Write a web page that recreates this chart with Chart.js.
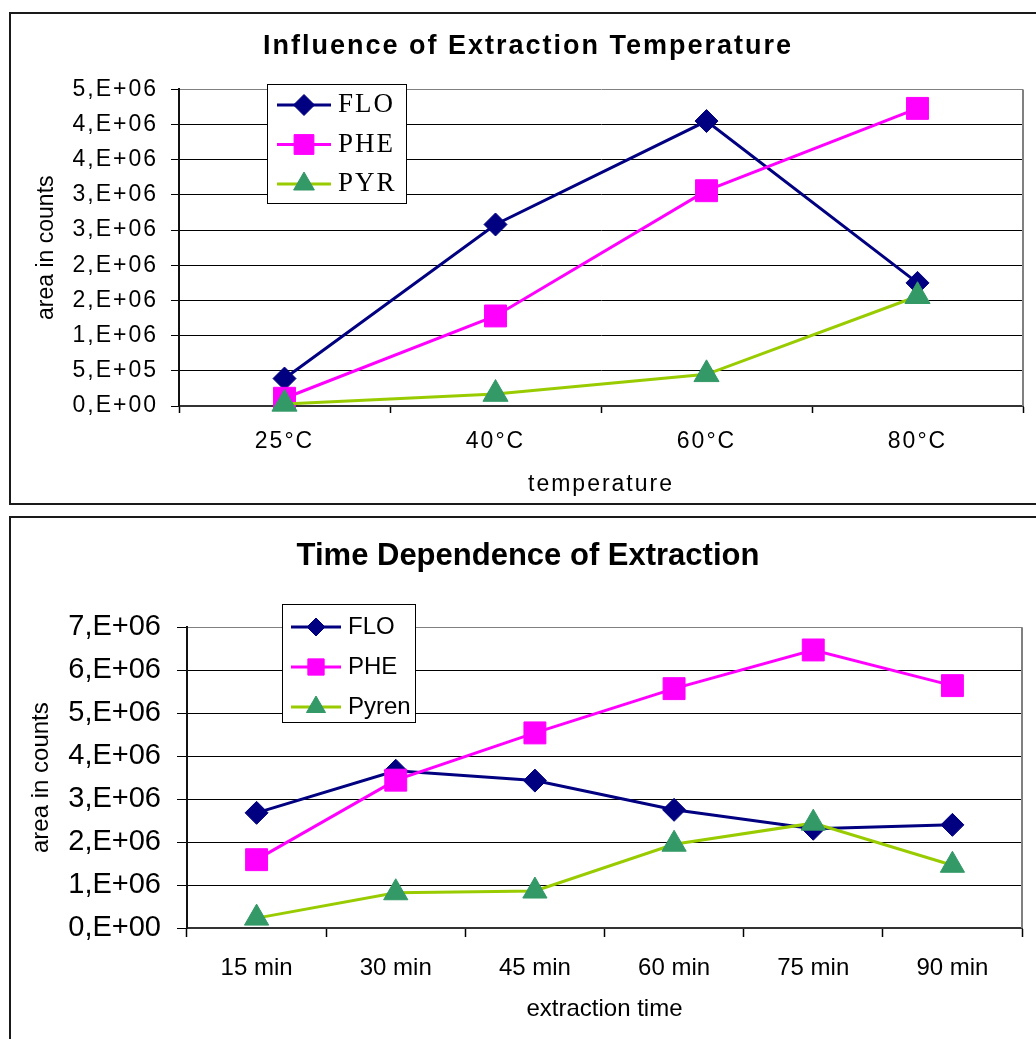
<!DOCTYPE html>
<html>
<head>
<meta charset="utf-8">
<title>Extraction</title>
<script src="https://cdn.jsdelivr.net/npm/chart.js@4.4.1/dist/chart.umd.min.js"></script>
<style>
    body { margin: 0; background: #fff; overflow: hidden; }
    .box { position: absolute; left: 9px; border: 2px solid #1a1a1a; background: #fff; }
    #box1 { top: 12px; width: 1034px; height: 489px; }
    #box2 { top: 516px; width: 1034px; height: 530px; }
    canvas { display: block; }
</style>
</head>
<body>
<div class="box" id="box1"><canvas id="chartTemp" width="1034" height="489"></canvas></div>
<div class="box" id="box2"><canvas id="chartTime" width="1034" height="530"></canvas></div>
<script>
// Dữ liệu biểu đồ 1: nhiệt độ
const tempLabels = ['25°C', '40°C', '60°C', '80°C'];
const tempFLO = [3.9e5, 2.58e6, 4.05e6, 1.75e6];
const tempPHE = [1.1e5, 1.28e6, 3.06e6, 4.23e6];
const tempPYR = [3e4, 1.7e5, 4.5e5, 1.56e6];
const tempYMax = 4.5e6;
const tempYStep = 5e5;

// Dữ liệu biểu đồ 2: thời gian
const timeLabels = ['15 min', '30 min', '45 min', '60 min', '75 min', '90 min'];
const timeFLO = [2.68e6, 3.66e6, 3.43e6, 2.75e6, 2.31e6, 2.40e6];
const timePHE = [1.59e6, 3.44e6, 4.54e6, 5.57e6, 6.47e6, 5.64e6];
const timePYR = [2.3e5, 8.2e5, 8.6e5, 1.95e6, 2.44e6, 1.46e6];
const timeYMax = 7e6;
const timeYStep = 1e6;

const sans = '"Liberation Sans", Arial, sans-serif';
const serif = '"Liberation Serif", "Times New Roman", serif';

// Nhãn kiểu Excel: 5,E+05
function sciLabel(v) {
    const parts = Number(v).toExponential(0).split('e');
    const exp = parseInt(parts[1], 10);
    return parts[0] + ',E' + (exp < 0 ? '-' : '+') + String(Math.abs(exp)).padStart(2, '0');
}

function series(label, data, line, marker, style, radius, order) {
    return {
        label: label,
        data: data,
        order: order,
        borderColor: line,
        backgroundColor: marker,
        borderWidth: 3,
        pointStyle: style,
        pointRadius: radius,
        pointHoverRadius: radius,
        pointBackgroundColor: marker,
        pointBorderColor: marker,
        pointBorderWidth: 1,
        tension: 0,
        clip: false
    };
}

// Khung vùng vẽ (cạnh phải màu xám)
const plotFrame = {
    id: 'plotFrame',
    beforeDatasetsDraw(chart) {
        const a = chart.chartArea;
        const ctx = chart.ctx;
        ctx.save();
        ctx.strokeStyle = '#808080';
        ctx.lineWidth = 2;
        ctx.beginPath();
        ctx.moveTo(Math.round(a.right), a.top);
        ctx.lineTo(Math.round(a.right), a.bottom);
        ctx.stroke();
        ctx.restore();
    }
};

// Giãn chữ cho biểu đồ trên
const spacing = {
    id: 'spacing',
    beforeDraw(chart, args, opts) {
        chart.ctx.letterSpacing = opts.value || '0px';
    }
};

// Chú thích trong khung
const boxLegend = {
    id: 'boxLegend',
    afterDraw(chart, args, opts) {
        const ctx = chart.ctx;
        ctx.save();
        ctx.fillStyle = '#fff';
        ctx.fillRect(opts.x, opts.y, opts.w, opts.h);
        ctx.strokeStyle = '#000';
        ctx.lineWidth = 1;
        ctx.strokeRect(opts.x + 0.5, opts.y + 0.5, opts.w, opts.h);
        chart.data.datasets.forEach(function (ds, i) {
            const y = opts.firstRow + i * opts.rowGap;
            ctx.strokeStyle = ds.borderColor;
            ctx.lineWidth = 3;
            ctx.beginPath();
            ctx.moveTo(opts.lineX1, y);
            ctx.lineTo(opts.lineX2, y);
            ctx.stroke();
            ctx.fillStyle = ds.pointBackgroundColor;
            ctx.strokeStyle = ds.pointBorderColor;
            ctx.lineWidth = 1;
            Chart.helpers.drawPoint(ctx, {
                pointStyle: ds.pointStyle,
                radius: opts.radius[i],
                borderWidth: 1,
                rotation: 0
            }, (opts.lineX1 + opts.lineX2) / 2, y);
            ctx.fillStyle = '#000';
            ctx.font = opts.font;
            ctx.textBaseline = 'middle';
            ctx.textAlign = 'left';
            ctx.fillText(ds.label, opts.textX, y);
        });
        ctx.restore();
    }
};

// Tiêu đề trục Y xoay: không giãn chữ
function plainTitle(scale) {
    if (scale._plainTitle) return;
    scale._plainTitle = true;
    const orig = scale.drawTitle;
    scale.drawTitle = function () {
        const ls = this.ctx.letterSpacing;
        this.ctx.letterSpacing = '0px';
        orig.call(this);
        this.ctx.letterSpacing = ls;
    };
}

function buildOptions(cfg) {
    return {
        responsive: false,
        animation: false,
        events: [],
        layout: { padding: 0 },
        plugins: {
            legend: { display: false },
            tooltip: { enabled: false },
            title: {
                display: true,
                text: cfg.title,
                color: '#000',
                font: { family: sans, size: cfg.titleSize, weight: 'bold' },
                padding: { top: cfg.titleTop, bottom: cfg.titleBottom }
            },
            spacing: { value: cfg.spacing },
            boxLegend: cfg.legend
        },
        scales: {
            x: {
                offset: true,
                afterFit: function (scale) { scale.height = cfg.xHeight; },
                grid: {
                    offset: true,
                    drawOnChartArea: false,
                    tickLength: cfg.xTickLen,
                    tickColor: '#000',
                    tickWidth: 1.5
                },
                border: { display: true, color: '#333', width: 2 },
                ticks: {
                    color: '#000',
                    maxRotation: 0,
                    autoSkip: false,
                    padding: cfg.xTickPad,
                    font: { family: sans, size: cfg.xTickSize }
                },
                title: {
                    display: true,
                    text: cfg.xTitle,
                    color: '#000',
                    font: { family: sans, size: cfg.axisTitleSize },
                    padding: { top: 0, bottom: cfg.xTitlePad }
                }
            },
            y: {
                min: 0,
                max: cfg.yMax,
                afterFit: function (scale) { scale.width = cfg.yWidth; },
                afterUpdate: plainTitle,
                grid: {
                    color: function (ctx) {
                        return ctx.tick && ctx.tick.value === cfg.yMax ? '#808080' : '#000';
                    },
                    lineWidth: 1,
                    tickLength: cfg.yTickLen,
                    tickColor: '#000'
                },
                border: { display: true, color: '#111', width: 2 },
                ticks: {
                    stepSize: cfg.yStep,
                    autoSkip: false,
                    color: '#000',
                    padding: cfg.yTickPad,
                    font: { family: sans, size: cfg.yTickSize },
                    callback: function (v) { return sciLabel(v); }
                },
                title: {
                    display: true,
                    text: 'area in counts',
                    color: '#000',
                    font: { family: sans, size: cfg.axisTitleSize },
                    padding: { top: cfg.yTitlePad, bottom: 0 }
                }
            },
            // khoảng trống bên phải vùng vẽ (không ảnh hưởng vị trí tiêu đề)
            yPad: {
                type: 'linear',
                position: 'right',
                afterFit: function (scale) { scale.width = cfg.padRight; },
                grid: { display: false, drawTicks: false },
                border: { display: false },
                ticks: { display: false }
            }
        }
    };
}

new Chart(document.getElementById('chartTemp'), {
    type: 'line',
    data: {
        labels: tempLabels,
        datasets: [
            series('FLO', tempFLO, '#000080', '#000080', 'rectRot', 11.5, 3),
            series('PHE', tempPHE, '#FF00FF', '#FF00FF', 'rect', 15.5, 2),
            series('PYR', tempPYR, '#99CC00', '#339966', 'triangle', 14.5, 1)
        ]
    },
    options: buildOptions({
        title: 'Influence of Extraction Temperature',
        titleSize: 27, titleTop: 16, titleBottom: 27,
        padRight: 22, spacing: '2px',
        xHeight: 97, xTickLen: 7, xTickPad: 15, xTickSize: 23,
        xTitle: 'temperature', xTitlePad: 5, axisTitleSize: 23,
        yMax: tempYMax, yStep: tempYStep, yWidth: 168, yTickLen: 8, yTickPad: 13, yTickSize: 23,
        yTitlePad: 22,
        legend: {
            x: 256, y: 70, w: 139, h: 119,
            firstRow: 91, rowGap: 39.5,
            lineX1: 266, lineX2: 320, textX: 327,
            radius: [10.5, 14, 12],
            font: '27px ' + serif
        }
    }),
    plugins: [spacing, plotFrame, boxLegend]
});

new Chart(document.getElementById('chartTime'), {
    type: 'line',
    data: {
        labels: timeLabels,
        datasets: [
            series('FLO', timeFLO, '#000080', '#000080', 'rectRot', 11.5, 3),
            series('PHE', timePHE, '#FF00FF', '#FF00FF', 'rect', 15.5, 2),
            series('Pyren', timePYR, '#99CC00', '#339966', 'triangle', 14, 1)
        ]
    },
    options: buildOptions({
        title: 'Time Dependence of Extraction',
        titleSize: 31, titleTop: 20, titleBottom: 52,
        padRight: 23, spacing: '0px',
        xHeight: 120, xTickLen: 9, xTickPad: 17, xTickSize: 24,
        xTitle: 'extraction time', xTitlePad: 24, axisTitleSize: 24,
        yMax: timeYMax, yStep: timeYStep, yWidth: 176, yTickLen: 10, yTickPad: 16, yTickSize: 29,
        yTitlePad: 16,
        legend: {
            x: 271, y: 86, w: 133, h: 118,
            firstRow: 109, rowGap: 40,
            lineX1: 280, lineX2: 330, textX: 337,
            radius: [9, 11.5, 11],
            font: '24px ' + sans
        }
    }),
    plugins: [plotFrame, boxLegend]
});
</script>
</body>
</html>
